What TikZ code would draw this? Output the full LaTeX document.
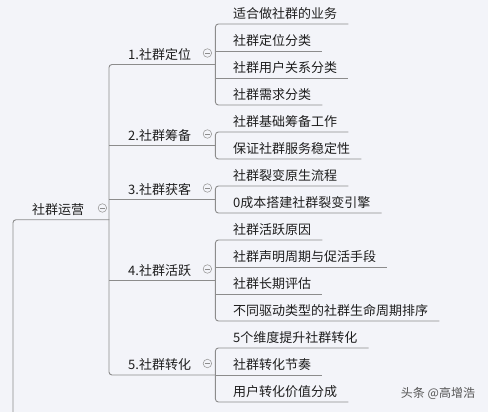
\documentclass[tikz,border=0pt]{standalone}
\usepackage{fontspec}
\setmainfont{Noto Sans CJK SC}
\usetikzlibrary{positioning}
\definecolor{bgpaper}{HTML}{F3F4F9}
\definecolor{linegray}{HTML}{8C8C8C}
\definecolor{inkgray}{HTML}{1E1E1E}
\definecolor{creditgray}{HTML}{555555}

\begin{document}
\begin{tikzpicture}[
  x=1pt, y=-1pt,
  topic/.style={anchor=south west, inner xsep=19pt, inner ysep=5pt, text depth=0pt,
    align=left, text=inkgray, font=\fontsize{13}{15}\selectfont},
  leaf/.style={anchor=south west, inner xsep=11pt, inner ysep=5pt, text depth=0pt,
    text=inkgray, font=\fontsize{13}{15}\selectfont},
  link/.style={draw=linegray, line width=0.9pt, rounded corners=3pt},
  fold/.style={circle, draw=linegray!85, line width=0.6pt, minimum size=8.5pt, inner sep=0pt,
    path picture={\draw[linegray, line width=0.6pt]
      ([xshift=-2.3pt]path picture bounding box.center) -- ([xshift=2.3pt]path picture bounding box.center);}},
  credit/.style={text=creditgray, font=\fontsize{12}{14}\selectfont}
]
\fill[bgpaper] (0,0) rectangle (488,412);
\useasboundingbox (0,0) rectangle (488,412);

% root and main branches
\coordinate (up) at (13,412);
\node[topic, text width=58pt] (root) at (13,219.75) {社群运营};
\node[topic, text width=68pt] (g1) at (109,64.5) {1.社群定位};
\node[topic, text width=68pt] (g2) at (109,145.5) {2.社群筹备};
\node[topic, text width=68pt] (g3) at (109,199.5) {3.社群获客};
\node[topic, text width=68pt] (g4) at (109,280.5) {4.社群活跃};
\node[topic, text width=68pt] (g5) at (109,375) {5.社群转化};

% leaves
\node[leaf] (g1a) at (222,24) {适合做社群的业务};
\node[leaf] (g1b) at (222,51) {社群定位分类};
\node[leaf] (g1c) at (222,78) {社群用户关系分类};
\node[leaf] (g1d) at (222,105) {社群需求分类};
\node[leaf] (g2a) at (222,132) {社群基础筹备工作};
\node[leaf] (g2b) at (222,159) {保证社群服务稳定性};
\node[leaf] (g3a) at (222,186) {社群裂变原生流程};
\node[leaf] (g3b) at (222,213) {0成本搭建社群裂变引擎};
\node[leaf] (g4a) at (222,240) {社群活跃原因};
\node[leaf] (g4b) at (222,267) {社群声明周期与促活手段};
\node[leaf] (g4c) at (222,294) {社群长期评估};
\node[leaf] (g4d) at (222,321) {不同驱动类型的社群生命周期排序};
\node[leaf] (g5a) at (222,348) {5个维度提升社群转化};
\node[leaf] (g5b) at (222,375) {社群转化节奏};
\node[leaf] (g5c) at (222,402) {用户转化价值分成};

% root links
\draw[link] (up) -- (root.south west) -- (root.south east);
\draw[link] (g1.south east) -- (g1.south west) -- (g5.south west) -- (g5.south east);
\draw[link] (g2.south west) -- (g2.south east);
\draw[link] (g3.south west) -- (g3.south east);
\draw[link] (g4.south west) -- (g4.south east);

% leaf links
\draw[link] (g1a.south east) -- (g1a.south west -| g1.south east) -- (g1d.south west -| g1.south east) -- (g1d.south east);
\draw[link] (g1b.south west -| g1.south east) -- (g1b.south east);
\draw[link] (g1c.south west -| g1.south east) -- (g1c.south east);
\draw[link] (g2a.south east) -- (g2a.south west -| g2.south east) -- (g2b.south west -| g2.south east) -- (g2b.south east);
\draw[link] (g3a.south east) -- (g3a.south west -| g3.south east) -- (g3b.south west -| g3.south east) -- (g3b.south east);
\draw[link] (g4a.south east) -- (g4a.south west -| g4.south east) -- (g4d.south west -| g4.south east) -- (g4d.south east);
\draw[link] (g4b.south west -| g4.south east) -- (g4b.south east);
\draw[link] (g4c.south west -| g4.south east) -- (g4c.south east);
\draw[link] (g5a.south east) -- (g5a.south west -| g5.south east) -- (g5c.south west -| g5.south east) -- (g5c.south east);
\draw[link] (g5b.south west -| g5.south east) -- (g5b.south east);

% fold buttons
\node[fold] (rootfold) at ([xshift=-7pt,yshift=11.75pt]root.south east) {};
\node[fold] (g1fold) at ([xshift=-8pt,yshift=11.5pt]g1.south east) {};
\node[fold] (g2fold) at ([xshift=-8pt,yshift=11.5pt]g2.south east) {};
\node[fold] (g3fold) at ([xshift=-8pt,yshift=11.5pt]g3.south east) {};
\node[fold] (g4fold) at ([xshift=-8pt,yshift=11.5pt]g4.south east) {};
\node[fold] (g5fold) at ([xshift=-8pt,yshift=11.5pt]g5.south east) {};

\node[credit] (mark) at (438,393) {头条 @高增浩};
\end{tikzpicture}
\end{document}
